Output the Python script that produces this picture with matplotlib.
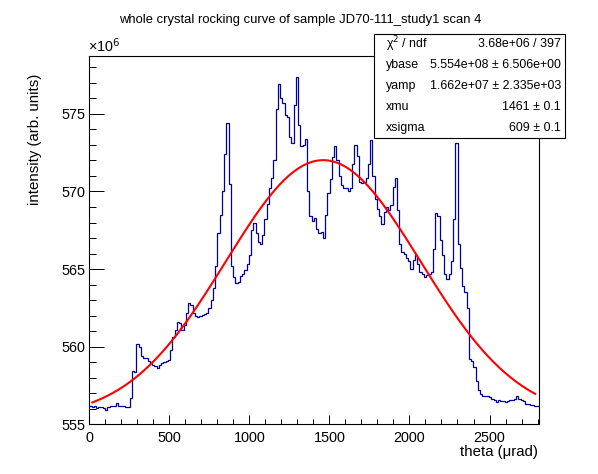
import numpy as np
import matplotlib
matplotlib.use("Agg")
import matplotlib.pyplot as plt
from matplotlib.ticker import MultipleLocator

plt.rcParams["font.family"] = ["Liberation Sans", "DejaVu Sans"]

TITLE = "whole crystal rocking curve of sample JD70-111_study1 scan 4"
XLABEL = "theta (\u03bcrad)"
YLABEL = "intensity (arb. units)"

# histogram: 200 bins from 0 to 2806 urad, intensity in units of 1e6
X_MIN, X_MAX = 0.0, 2806.0
N_BINS = 200
Y_MIN, Y_MAX = 555.0, 578.73

INTENSITY = [
    556.15, 556.10, 556.15, 556.05, 556.10, 556.10, 556.05, 555.95, 556.10, 556.15,
    556.15, 556.20, 556.35, 556.20, 556.15, 556.15, 556.10, 556.10, 556.70, 558.45,
    558.40, 560.20, 560.00, 559.40, 559.30, 559.25, 559.10, 558.95, 558.80, 558.75,
    558.60, 558.85, 558.95, 559.00, 559.05, 559.15, 559.80, 560.65, 561.10, 561.60,
    561.50, 561.10, 561.40, 562.20, 562.80, 562.70, 562.15, 561.95, 561.93, 562.00,
    562.05, 562.10, 562.20, 562.50, 563.00, 563.80, 565.20, 567.30, 568.50, 570.00,
    572.40, 574.40, 570.50, 565.20, 564.50, 564.10, 564.20, 564.55, 564.70, 564.95,
    565.30, 565.90, 567.50, 568.00, 567.30, 566.75, 566.60, 567.20, 568.20, 569.20,
    570.20, 570.90, 572.00, 575.30, 576.90, 576.00, 575.70, 574.90, 574.80, 573.50,
    573.10, 575.60, 577.40, 574.30, 572.90, 573.00, 573.40, 570.00, 568.40, 568.10,
    568.30, 567.60, 567.30, 567.40, 567.00, 568.50, 569.90, 570.80, 572.20, 572.95,
    572.00, 571.00, 570.40, 570.20, 570.20, 570.00, 570.20, 571.80, 573.00, 572.30,
    570.60, 570.55, 570.60, 570.90, 571.80, 573.30, 571.00, 569.50, 568.90, 568.45,
    567.90, 568.70, 569.00, 568.80, 569.10, 570.30, 570.90, 568.80, 566.60, 566.10,
    565.95, 565.70, 565.50, 565.00, 565.60, 565.90, 565.30, 564.80, 564.70, 564.50,
    564.60, 564.70, 564.83, 566.30, 568.60, 568.40, 566.90, 565.90, 564.70, 564.35,
    564.70, 565.50, 568.20, 573.10, 566.60, 565.10, 563.90, 563.50, 562.50, 559.20,
    559.10, 558.70, 557.80, 557.20, 556.95, 556.85, 556.80, 556.80, 556.75, 556.65,
    556.55, 556.45, 556.55, 556.50, 556.50, 556.45, 556.50, 556.55, 556.55, 556.60,
    556.80, 556.60, 556.55, 556.50, 556.30, 556.30, 556.25, 556.25, 556.20, 556.20,
]

# gaussian + constant fit
YBASE = 5.554e+08
YAMP = 1.662e+07
XMU = 1461.0
XSIGMA = 609.0
FIT_LO, FIT_HI = 19.0, 2785.0

STAT_NAMES = ["\u03c7$^{2}$ / ndf", "ybase", "yamp", "xmu", "xsigma"]
STAT_VALUES = ["3.68e+06 / 397", "5.554e+08 \u00b1 6.506e+00",
               "1.662e+07 \u00b1 2.335e+03", "1461 \u00b1 0.1", "609 \u00b1 0.1"]

HIST_COL = "#000099"
FIT_COL = "#ff0000"


def main():
    W, H = 598, 474
    fig = plt.figure(figsize=(W / 100, H / 100), dpi=100)
    left, right, top, bottom = 89.3, 538.5, 56.0, 424.3
    ax = fig.add_axes([left / W, 1 - bottom / H, (right - left) / W, (bottom - top) / H])

    edges = np.linspace(X_MIN, X_MAX, N_BINS + 1)
    vals = np.array(INTENSITY)
    ax.stairs(vals, edges, color=HIST_COL, lw=0.9, baseline=None)

    xf = np.linspace(FIT_LO, FIT_HI, 400)
    yf = (YBASE + YAMP * np.exp(-0.5 * ((xf - XMU) / XSIGMA) ** 2)) / 1e6
    ax.plot(xf, yf, color=FIT_COL, lw=1.5)

    ax.set_xlim(X_MIN, X_MAX)
    ax.set_ylim(Y_MIN, Y_MAX)
    ax.xaxis.set_major_locator(MultipleLocator(500))
    ax.xaxis.set_minor_locator(MultipleLocator(100))
    ax.yaxis.set_major_locator(MultipleLocator(5))
    ax.yaxis.set_minor_locator(MultipleLocator(1))
    ax.tick_params(which="both", direction="in", top=False, right=False,
                   labelsize=10.4, width=0.7)
    ax.tick_params(axis="x", which="major", length=6.7, pad=5)
    ax.tick_params(axis="x", which="minor", length=3.3)
    ax.tick_params(axis="y", which="major", length=10.5, pad=3)
    ax.tick_params(axis="y", which="minor", length=5.2)
    for s in ax.spines.values():
        s.set_linewidth(0.8)

    fig.text(0.502, 1 - 20 / H, TITLE, ha="center", va="center", fontsize=9.4)
    fig.text(right / W, 1 - 452 / H, XLABEL, ha="right", va="center", fontsize=10.8)
    fig.text(35 / W, 1 - 74 / H, YLABEL, ha="center", va="top",
             rotation=90, fontsize=10.8)
    fig.text(88 / W, 1 - 52 / H, "\u00d710$^{6}$", ha="left", va="baseline",
             fontsize=10.4)

    # stats box
    bx0, bx1, by0, by1 = 374, 565, 34, 138
    box = plt.Rectangle((bx0 / W, 1 - by1 / H), (bx1 - bx0) / W, (by1 - by0) / H,
                        transform=fig.transFigure, facecolor="white",
                        edgecolor="black", lw=0.8, zorder=5)
    fig.patches.append(box)
    rows = [44, 65, 86, 107, 128]
    for yy, name, val in zip(rows, STAT_NAMES, STAT_VALUES):
        fig.text(386 / W, 1 - yy / H, name, ha="left", va="center",
                 fontsize=8.9, zorder=6)
        fig.text(561 / W, 1 - yy / H, val, ha="right", va="center",
                 fontsize=8.9, zorder=6)

    fig.savefig("out.png", dpi=100)
    plt.close(fig)


if __name__ == "__main__":
    main()
